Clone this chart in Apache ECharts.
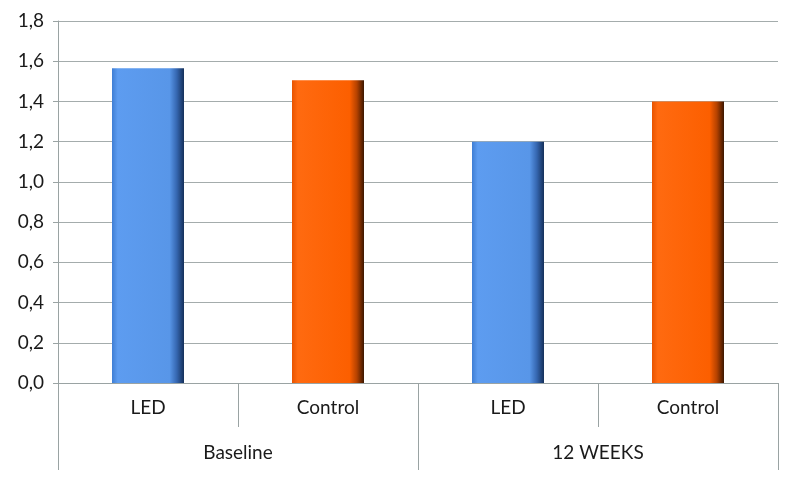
<!DOCTYPE html>
<html>
<head>
<meta charset="utf-8">
<script src="https://cdn.jsdelivr.net/npm/echarts@6/dist/echarts.min.js"></script>
<style>
html,body{margin:0;padding:0;background:#fff;}
#c{width:800px;height:477px;}
</style>
</head>
<body>
<div id="c"></div>
<script>
const categories = ['LED', 'Control', 'LED', 'Control'];
const groups = ['Baseline', '12 WEEKS'];
const values = [1.565, 1.505, 1.2, 1.4];
const yTicks = { min: 0, max: 1.8, interval: 0.2 };

function grad(stops) {
  return new echarts.graphic.LinearGradient(0, 0, 1, 0, stops.map((c, i) => ({ offset: c[0], color: c[1] })));
}
const blue = grad([[0, '#3f7ed4'], [0.08, '#5d9cf0'], [0.8, '#5896e8'], [0.9, '#3566b0'], [1, '#15305a']]);
const orange = grad([[0, '#e85400'], [0.08, '#ff6a10'], [0.8, '#fc5f00'], [0.9, '#b54200'], [1, '#3c1600']]);
const barColors = [blue, orange, blue, orange];

const chart = echarts.init(document.getElementById('c'), null, { renderer: 'canvas' });
const font = "Lato, 'Open Sans', sans-serif";
chart.setOption({
  animation: false,
  grid: { left: 58, right: 22, top: 21, bottom: 94 },
  xAxis: [
    {
      type: 'category',
      position: 'bottom',
      data: categories,
      axisLine: { show: true, lineStyle: { color: '#9aa3a3', width: 1 } },
      axisTick: { show: true, length: 44, lineStyle: { color: '#9aa3a3' } },
      axisLabel: { margin: 15, fontSize: 19, color: '#1a1a1a', fontFamily: font }
    },
    {
      type: 'category',
      position: 'bottom',
      data: groups,
      axisLine: { show: false },
      axisTick: { show: true, length: 87, lineStyle: { color: '#9aa3a3' } },
      axisLabel: { margin: 60, fontSize: 19, color: '#1a1a1a', fontFamily: font }
    }
  ],
  yAxis: {
    type: 'value',
    min: yTicks.min, max: yTicks.max, interval: yTicks.interval,
    axisLine: { show: true, lineStyle: { color: '#9aa3a3' } },
    axisTick: { show: true, length: 5, lineStyle: { color: '#9aa3a3' } },
    splitLine: { show: true, lineStyle: { color: '#a4acac', width: 1 } },
    axisLabel: {
      margin: 14, fontSize: 19, color: '#1a1a1a', fontFamily: font,
      formatter: v => v.toFixed(1).replace('.', ',')
    }
  },
  series: [{
    type: 'bar',
    xAxisIndex: 0,
    barWidth: '40%',
    data: values.map((v, i) => ({ value: v, itemStyle: { color: barColors[i] } }))
  }]
});
</script>
</body>
</html>
